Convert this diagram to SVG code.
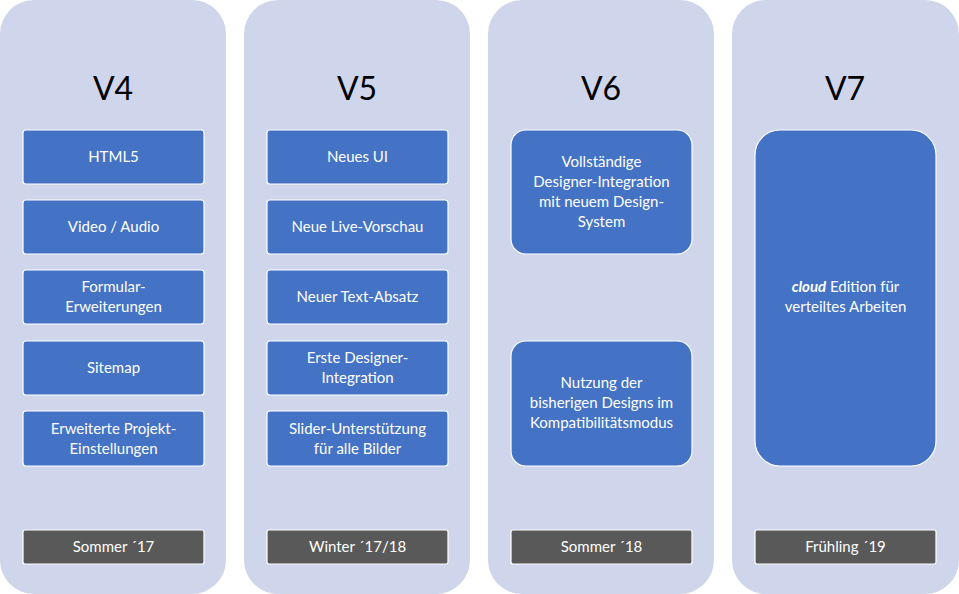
<svg xmlns="http://www.w3.org/2000/svg" width="959" height="594" viewBox="0 0 959 594">
<style>
.col{fill:#CFD5EA}
.b{fill:#4472C4;stroke:#fff;stroke-width:1.2}
.f{fill:#595959;stroke:#fff;stroke-width:1.2}
text{font-family:Lato,"Open Sans",sans-serif;fill:#fff;font-size:15px;text-anchor:middle}
.t{fill:#000;font-size:32px}
</style>
<g id="col-v4">
<rect class="col" x="0" y="0" width="226" height="594" rx="34"/>
<text class="t" x="113" y="100">V4</text>
<g id="v4-1"><rect class="b" x="23" y="130" width="181" height="54" rx="3"/><text x="113.5" y="162">HTML5</text></g>
<g id="v4-2"><rect class="b" x="23" y="200" width="181" height="54" rx="3"/><text x="113.5" y="232">Video / Audio</text></g>
<g id="v4-3"><rect class="b" x="23" y="270" width="181" height="54" rx="3"/><text x="113.5" y="292">Formular-</text><text x="113.5" y="312">Erweiterungen</text></g>
<g id="v4-4"><rect class="b" x="23" y="341" width="181" height="54" rx="3"/><text x="113.5" y="373">Sitemap</text></g>
<g id="v4-5"><rect class="b" x="23" y="411" width="181" height="55" rx="3"/><text x="113.5" y="434">Erweiterte Projekt-</text><text x="113.5" y="454">Einstellungen</text></g>
<g id="v4-date"><rect class="f" x="23" y="530" width="181" height="34" rx="2"/><text x="113.5" y="552">Sommer ´17</text></g>
</g>
<g id="col-v5">
<rect class="col" x="244" y="0" width="226" height="594" rx="34"/>
<text class="t" x="357" y="100">V5</text>
<g id="v5-1"><rect class="b" x="267" y="130" width="181" height="54" rx="3"/><text x="357.5" y="162">Neues UI</text></g>
<g id="v5-2"><rect class="b" x="267" y="200" width="181" height="54" rx="3"/><text x="357.5" y="232">Neue Live-Vorschau</text></g>
<g id="v5-3"><rect class="b" x="267" y="270" width="181" height="54" rx="3"/><text x="357.5" y="302">Neuer Text-Absatz</text></g>
<g id="v5-4"><rect class="b" x="267" y="341" width="181" height="54" rx="3"/><text x="357.5" y="363">Erste Designer-</text><text x="357.5" y="383">Integration</text></g>
<g id="v5-5"><rect class="b" x="267" y="411" width="181" height="55" rx="3"/><text x="357.5" y="434">Slider-Unterstützung</text><text x="357.5" y="454">für alle Bilder</text></g>
<g id="v5-date"><rect class="f" x="267" y="530" width="181" height="34" rx="2"/><text x="357.5" y="552">Winter ´17/18</text></g>
</g>
<g id="col-v6">
<rect class="col" x="488" y="0" width="226" height="594" rx="34"/>
<text class="t" x="601" y="100">V6</text>
<g id="v6-1"><rect class="b" x="511" y="130" width="181" height="124" rx="15"/><text x="601.5" y="167">Vollständige</text><text x="601.5" y="187">Designer-Integration</text><text x="601.5" y="207">mit neuem Design-</text><text x="601.5" y="227">System</text></g>
<g id="v6-2"><rect class="b" x="511" y="341" width="181" height="125" rx="15"/><text x="601.5" y="388">Nutzung der</text><text x="601.5" y="408">bisherigen Designs im</text><text x="601.5" y="428">Kompatibilitätsmodus</text></g>
<g id="v6-date"><rect class="f" x="511" y="530" width="181" height="34" rx="2"/><text x="601.5" y="552">Sommer ´18</text></g>
</g>
<g id="col-v7">
<rect class="col" x="732" y="0" width="227" height="594" rx="34"/>
<text class="t" x="845" y="100">V7</text>
<g id="v7-1"><rect class="b" x="755" y="130" width="181" height="336" rx="25"/><text x="845.5" y="292"><tspan font-weight="bold" font-style="italic">cloud</tspan> Edition für</text><text x="845.5" y="312">verteiltes Arbeiten</text></g>
<g id="v7-date"><rect class="f" x="755" y="530" width="181" height="34" rx="2"/><text x="845.5" y="552">Frühling ´19</text></g>
</g>
<g id="connectors"/>
</svg>
